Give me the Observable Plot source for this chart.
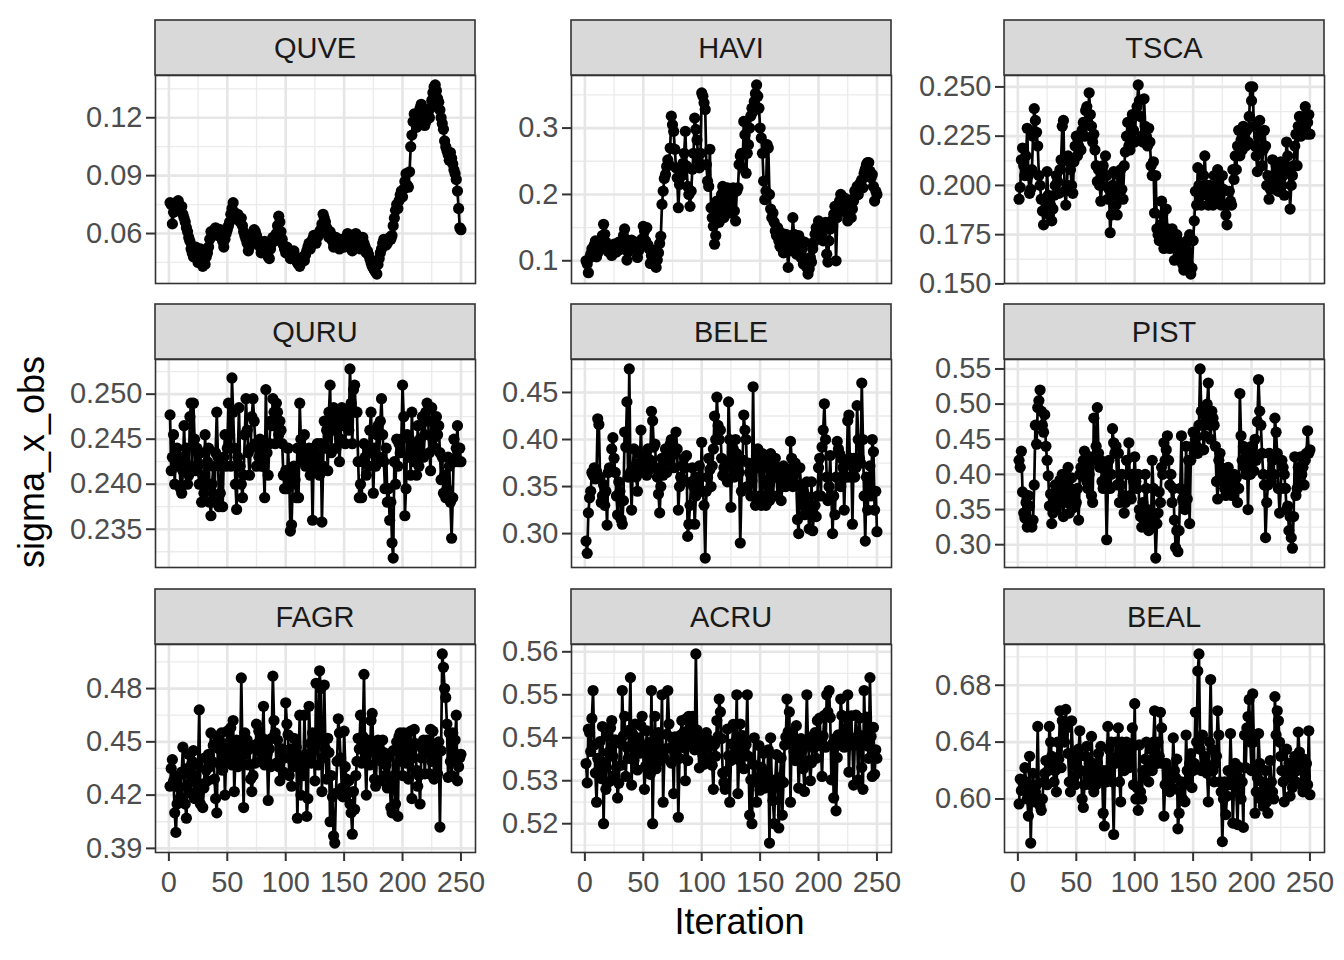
<!DOCTYPE html>
<html><head><meta charset="utf-8">
<script src="https://cdn.jsdelivr.net/npm/d3@7"></script>
<script src="https://cdn.jsdelivr.net/npm/@observablehq/plot@0.6"></script>
<style>
body{margin:0;background:#fff;}
#chart{position:relative;width:1344px;height:960px;font-family:"Liberation Sans",Arial,Helvetica,sans-serif;}
#chart svg{overflow:visible}
</style></head><body><div id="chart"></div>
<script>
const species = ["QUVE","HAVI","TSCA","QURU","BELE","PIST","FAGR","ACRU","BEAL"];

const QUVE = [0.076,0.075,0.065,0.071,0.074,0.076,0.073,0.077,0.075,0.072,
0.074,0.070,0.068,0.066,0.063,0.061,0.058,0.056,0.052,0.050,
0.048,0.051,0.053,0.047,0.045,0.049,0.052,0.046,0.043,0.045,
0.044,0.048,0.050,0.053,0.057,0.061,0.059,0.061,0.062,0.063,
0.061,0.059,0.060,0.062,0.058,0.056,0.053,0.057,0.060,0.062,
0.064,0.066,0.070,0.073,0.076,0.071,0.069,0.068,0.070,0.067,
0.066,0.068,0.064,0.061,0.059,0.057,0.055,0.051,0.053,0.055,
0.058,0.060,0.062,0.061,0.059,0.057,0.055,0.053,0.050,0.052,
0.054,0.056,0.053,0.050,0.048,0.047,0.052,0.055,0.058,0.056,
0.058,0.060,0.064,0.069,0.066,0.061,0.057,0.054,0.052,0.050,
0.053,0.052,0.049,0.047,0.048,0.050,0.051,0.048,0.046,0.045,
0.044,0.043,0.045,0.047,0.048,0.046,0.049,0.051,0.053,0.055,
0.052,0.054,0.057,0.059,0.056,0.055,0.058,0.059,0.061,0.062,
0.065,0.070,0.068,0.066,0.063,0.060,0.058,0.061,0.059,0.056,
0.053,0.055,0.058,0.057,0.054,0.052,0.055,0.057,0.055,0.053,
0.056,0.058,0.060,0.059,0.056,0.053,0.051,0.054,0.057,0.060,
0.059,0.056,0.054,0.052,0.056,0.058,0.055,0.053,0.050,0.051,
0.049,0.047,0.045,0.043,0.042,0.041,0.040,0.039,0.044,0.047,
0.050,0.052,0.055,0.057,0.056,0.054,0.055,0.057,0.058,0.057,
0.059,0.064,0.068,0.072,0.075,0.073,0.077,0.080,0.082,0.079,
0.083,0.087,0.091,0.085,0.084,0.092,0.105,0.111,0.118,0.122,
0.119,0.115,0.118,0.121,0.125,0.127,0.122,0.119,0.116,0.118,
0.121,0.123,0.120,0.125,0.129,0.133,0.136,0.137,0.134,0.130,
0.128,0.124,0.120,0.117,0.114,0.108,0.105,0.103,0.101,0.098,
0.102,0.099,0.096,0.093,0.091,0.088,0.082,0.073,0.063,0.062];

const HAVI = [0.100,0.095,0.082,0.104,0.110,0.118,0.113,0.124,0.130,0.106,
0.112,0.121,0.128,0.124,0.138,0.155,0.140,0.128,0.120,0.114,
0.118,0.112,0.108,0.116,0.125,0.120,0.113,0.122,0.128,0.117,
0.121,0.126,0.138,0.148,0.125,0.101,0.113,0.120,0.126,0.131,
0.124,0.119,0.128,0.122,0.105,0.115,0.128,0.124,0.133,0.152,
0.145,0.130,0.150,0.124,0.118,0.096,0.108,0.116,0.112,0.104,
0.090,0.101,0.112,0.126,0.137,0.185,0.205,0.224,0.230,0.242,
0.252,0.245,0.270,0.318,0.305,0.295,0.268,0.240,0.225,0.180,
0.215,0.232,0.228,0.247,0.262,0.295,0.243,0.212,0.200,0.182,
0.205,0.238,0.262,0.315,0.298,0.282,0.252,0.240,0.262,0.353,
0.348,0.338,0.328,0.245,0.220,0.212,0.268,0.180,0.165,0.152,
0.125,0.138,0.190,0.172,0.158,0.185,0.200,0.212,0.165,0.178,
0.195,0.210,0.205,0.172,0.190,0.200,0.210,0.175,0.160,0.205,
0.210,0.245,0.258,0.262,0.240,0.310,0.290,0.232,0.262,0.275,
0.300,0.318,0.330,0.325,0.340,0.352,0.365,0.348,0.330,0.300,
0.285,0.262,0.220,0.192,0.205,0.275,0.270,0.200,0.178,0.165,
0.172,0.158,0.145,0.138,0.150,0.130,0.122,0.142,0.118,0.112,
0.128,0.140,0.120,0.090,0.115,0.135,0.128,0.165,0.140,0.120,
0.110,0.125,0.138,0.132,0.105,0.118,0.095,0.128,0.100,0.090,
0.080,0.088,0.105,0.098,0.118,0.128,0.140,0.150,0.145,0.160,
0.155,0.150,0.140,0.130,0.148,0.158,0.110,0.098,0.130,0.148,
0.160,0.152,0.170,0.182,0.100,0.165,0.175,0.190,0.200,0.185,
0.178,0.195,0.188,0.172,0.160,0.182,0.192,0.165,0.178,0.190,
0.205,0.198,0.212,0.200,0.215,0.218,0.222,0.210,0.232,0.238,
0.245,0.248,0.248,0.235,0.225,0.230,0.212,0.190,0.205,0.200];

const TSCA = [0.193,0.199,0.213,0.219,0.210,0.205,0.215,0.229,0.205,0.196,
0.198,0.208,0.225,0.239,0.233,0.227,0.220,0.205,0.200,0.193,
0.187,0.180,0.187,0.192,0.207,0.195,0.185,0.190,0.182,0.188,
0.195,0.200,0.205,0.202,0.196,0.208,0.213,0.230,0.233,0.197,
0.190,0.200,0.215,0.212,0.208,0.200,0.196,0.212,0.220,0.225,
0.215,0.220,0.225,0.218,0.228,0.232,0.225,0.238,0.240,0.232,
0.247,0.236,0.230,0.222,0.226,0.218,0.210,0.202,0.208,0.200,
0.192,0.200,0.210,0.205,0.215,0.205,0.193,0.198,0.176,0.185,
0.200,0.207,0.195,0.190,0.185,0.200,0.205,0.208,0.198,0.193,
0.210,0.217,0.225,0.232,0.220,0.218,0.222,0.236,0.228,0.222,
0.236,0.240,0.251,0.243,0.235,0.225,0.222,0.244,0.230,0.225,
0.220,0.229,0.222,0.210,0.205,0.212,0.186,0.205,0.178,0.175,
0.172,0.180,0.192,0.185,0.168,0.175,0.188,0.178,0.170,0.168,
0.175,0.178,0.170,0.162,0.168,0.175,0.172,0.165,0.170,0.163,
0.160,0.157,0.165,0.168,0.172,0.160,0.175,0.155,0.158,0.172,
0.182,0.197,0.190,0.209,0.200,0.195,0.190,0.197,0.205,0.215,
0.200,0.195,0.190,0.200,0.193,0.198,0.190,0.205,0.197,0.192,
0.208,0.200,0.195,0.190,0.205,0.198,0.190,0.185,0.180,0.190,
0.197,0.192,0.190,0.208,0.203,0.215,0.208,0.220,0.228,0.215,
0.223,0.218,0.230,0.225,0.220,0.228,0.222,0.235,0.250,0.243,
0.250,0.230,0.220,0.215,0.207,0.225,0.233,0.226,0.210,0.218,
0.228,0.220,0.200,0.205,0.193,0.198,0.200,0.213,0.205,0.198,
0.210,0.200,0.197,0.205,0.212,0.200,0.205,0.195,0.210,0.222,
0.215,0.208,0.188,0.200,0.205,0.210,0.220,0.226,0.210,0.230,
0.235,0.225,0.230,0.228,0.235,0.240,0.226,0.232,0.236,0.226];

const QURU = [0.2477,0.2415,0.2430,0.2455,0.2400,0.2435,0.2440,0.2420,0.2430,0.2395,
0.2390,0.2415,0.2465,0.2425,0.2440,0.2400,0.2410,0.2475,0.2490,0.2420,
0.2490,0.2450,0.2415,0.2440,0.2420,0.2400,0.2435,0.2380,0.2410,0.2390,
0.2455,0.2400,0.2425,0.2440,0.2380,0.2365,0.2400,0.2420,0.2380,0.2435,
0.2480,0.2430,0.2375,0.2390,0.2420,0.2375,0.2430,0.2455,0.2420,0.2440,
0.2490,0.2455,0.2420,0.2518,0.2480,0.2440,0.2400,0.2372,0.2430,0.2485,
0.2420,0.2400,0.2385,0.2410,0.2455,0.2495,0.2460,0.2435,0.2410,0.2440,
0.2475,0.2495,0.2470,0.2445,0.2420,0.2445,0.2430,0.2450,0.2420,0.2440,
0.2420,0.2385,0.2505,0.2435,0.2410,0.2445,0.2470,0.2465,0.2495,0.2480,
0.2445,0.2490,0.2480,0.2455,0.2470,0.2460,0.2445,0.2410,0.2395,0.2415,
0.2395,0.2440,0.2410,0.2348,0.2355,0.2400,0.2420,0.2405,0.2385,0.2440,
0.2385,0.2490,0.2450,0.2425,0.2440,0.2455,0.2420,0.2430,0.2425,0.2440,
0.2410,0.2430,0.2360,0.2440,0.2420,0.2415,0.2445,0.2430,0.2410,0.2445,
0.2358,0.2420,0.2470,0.2440,0.2460,0.2415,0.2480,0.2510,0.2435,0.2475,
0.2485,0.2460,0.2440,0.2480,0.2470,0.2425,0.2450,0.2485,0.2470,0.2465,
0.2445,0.2480,0.2470,0.2460,0.2528,0.2490,0.2445,0.2505,0.2510,0.2480,
0.2480,0.2425,0.2385,0.2400,0.2385,0.2425,0.2445,0.2430,0.2410,0.2440,
0.2420,0.2460,0.2480,0.2435,0.2390,0.2440,0.2420,0.2455,0.2465,0.2430,
0.2470,0.2495,0.2455,0.2425,0.2395,0.2440,0.2380,0.2395,0.2360,0.2380,
0.2335,0.2318,0.2425,0.2400,0.2450,0.2420,0.2445,0.2435,0.2450,0.2510,
0.2475,0.2365,0.2395,0.2455,0.2430,0.2450,0.2410,0.2480,0.2440,0.2425,
0.2445,0.2410,0.2465,0.2420,0.2450,0.2435,0.2475,0.2430,0.2455,0.2480,
0.2490,0.2470,0.2435,0.2415,0.2485,0.2450,0.2470,0.2440,0.2475,0.2455,
0.2465,0.2435,0.2405,0.2430,0.2390,0.2410,0.2385,0.2395,0.2430,0.2420,
0.2380,0.2340,0.2385,0.2450,0.2425,0.2440,0.2465,0.2425,0.2440,0.2425];

const BELE = [0.292,0.279,0.322,0.338,0.345,0.365,0.362,0.370,0.358,0.366,
0.422,0.416,0.360,0.333,0.340,0.352,0.330,0.345,0.309,0.365,
0.370,0.368,0.390,0.402,0.380,0.365,0.340,0.320,0.355,0.345,
0.315,0.310,0.335,0.408,0.392,0.440,0.360,0.475,0.365,0.325,
0.370,0.390,0.372,0.360,0.345,0.385,0.375,0.410,0.370,0.365,
0.372,0.380,0.362,0.390,0.368,0.378,0.430,0.420,0.392,0.395,
0.370,0.360,0.342,0.322,0.350,0.380,0.362,0.375,0.390,0.365,
0.378,0.385,0.395,0.400,0.390,0.370,0.385,0.408,0.390,0.325,
0.350,0.360,0.372,0.355,0.380,0.370,0.383,0.297,0.310,0.330,
0.355,0.370,0.350,0.310,0.340,0.360,0.352,0.372,0.345,0.397,
0.345,0.330,0.274,0.345,0.360,0.380,0.368,0.350,0.372,0.390,
0.425,0.400,0.445,0.415,0.400,0.410,0.380,0.362,0.370,0.360,
0.375,0.355,0.440,0.400,0.328,0.380,0.390,0.360,0.400,0.385,
0.372,0.365,0.290,0.345,0.378,0.426,0.410,0.400,0.350,0.375,
0.365,0.340,0.356,0.456,0.340,0.330,0.370,0.390,0.380,0.340,
0.330,0.385,0.370,0.340,0.330,0.380,0.350,0.335,0.385,0.372,
0.340,0.360,0.380,0.360,0.340,0.370,0.360,0.335,0.350,0.372,
0.362,0.350,0.368,0.360,0.355,0.398,0.380,0.350,0.362,0.375,
0.352,0.315,0.300,0.370,0.350,0.330,0.345,0.320,0.340,0.355,
0.330,0.305,0.320,0.355,0.303,0.320,0.330,0.318,0.340,0.370,
0.380,0.340,0.392,0.410,0.438,0.400,0.360,0.335,0.350,0.383,
0.340,0.300,0.340,0.320,0.360,0.398,0.390,0.385,0.350,0.380,
0.370,0.325,0.372,0.360,0.420,0.426,0.360,0.380,0.310,0.380,
0.360,0.370,0.436,0.400,0.380,0.375,0.460,0.400,0.340,0.292,
0.360,0.325,0.350,0.372,0.340,0.400,0.387,0.325,0.345,0.302];

const PIST = [0.420,0.410,0.433,0.375,0.345,0.338,0.360,0.325,0.370,0.355,
0.330,0.325,0.335,0.385,0.470,0.443,0.495,0.505,0.520,0.490,
0.470,0.460,0.485,0.440,0.420,0.398,0.355,0.372,0.330,0.345,
0.360,0.385,0.350,0.372,0.380,0.392,0.360,0.400,0.340,0.378,
0.400,0.360,0.410,0.345,0.380,0.395,0.352,0.375,0.355,0.360,
0.380,0.335,0.400,0.410,0.398,0.420,0.433,0.412,0.390,0.380,
0.400,0.425,0.370,0.360,0.480,0.420,0.440,0.495,0.430,0.410,
0.420,0.390,0.380,0.410,0.395,0.307,0.380,0.420,0.380,0.400,
0.465,0.445,0.430,0.440,0.385,0.430,0.360,0.385,0.400,0.370,
0.345,0.360,0.420,0.400,0.445,0.370,0.365,0.400,0.390,0.425,
0.390,0.380,0.400,0.350,0.340,0.325,0.360,0.335,0.400,0.380,
0.350,0.320,0.340,0.330,0.420,0.380,0.340,0.281,0.330,0.345,
0.375,0.360,0.410,0.400,0.445,0.420,0.435,0.455,0.420,0.385,
0.400,0.360,0.380,0.335,0.296,0.320,0.290,0.320,0.380,0.455,
0.365,0.360,0.350,0.440,0.365,0.420,0.330,0.420,0.440,0.460,
0.430,0.450,0.440,0.430,0.470,0.550,0.490,0.470,0.435,0.455,
0.480,0.500,0.530,0.470,0.450,0.490,0.480,0.470,0.440,0.390,
0.365,0.420,0.430,0.410,0.390,0.400,0.380,0.370,0.395,0.410,
0.380,0.400,0.370,0.390,0.400,0.380,0.395,0.360,0.380,0.515,
0.455,0.420,0.440,0.410,0.400,0.430,0.350,0.430,0.400,0.440,
0.420,0.405,0.450,0.420,0.475,0.535,0.490,0.470,0.430,0.400,
0.385,0.310,0.360,0.385,0.430,0.400,0.390,0.420,0.400,0.480,
0.460,0.430,0.380,0.345,0.380,0.420,0.410,0.400,0.380,0.350,
0.355,0.320,0.340,0.310,0.295,0.340,0.425,0.370,0.380,0.410,
0.385,0.425,0.400,0.410,0.385,0.420,0.430,0.462,0.430,0.435];

const FAGR = [0.425,0.435,0.440,0.428,0.410,0.399,0.415,0.431,0.424,0.419,
0.433,0.447,0.432,0.415,0.407,0.426,0.443,0.436,0.421,0.439,
0.445,0.418,0.431,0.422,0.437,0.468,0.415,0.426,0.413,0.424,
0.441,0.434,0.428,0.443,0.436,0.455,0.439,0.448,0.429,0.418,
0.410,0.452,0.446,0.437,0.455,0.434,0.449,0.420,0.441,0.456,
0.449,0.444,0.458,0.437,0.462,0.422,0.441,0.451,0.436,0.446,
0.439,0.486,0.442,0.413,0.455,0.444,0.451,0.437,0.446,0.429,
0.422,0.431,0.448,0.438,0.460,0.449,0.456,0.439,0.444,0.452,
0.470,0.437,0.451,0.443,0.417,0.446,0.436,0.452,0.487,0.462,
0.455,0.438,0.451,0.436,0.428,0.441,0.446,0.433,0.441,0.472,
0.460,0.454,0.431,0.446,0.425,0.439,0.452,0.436,0.447,0.407,
0.441,0.465,0.420,0.438,0.431,0.465,0.443,0.408,0.418,0.470,
0.449,0.438,0.455,0.446,0.428,0.483,0.451,0.437,0.490,0.480,
0.422,0.441,0.482,0.446,0.429,0.452,0.444,0.405,0.431,0.419,
0.397,0.393,0.421,0.439,0.463,0.455,0.441,0.424,0.419,0.456,
0.436,0.429,0.421,0.428,0.415,0.410,0.398,0.422,0.412,0.431,
0.439,0.452,0.446,0.465,0.438,0.453,0.488,0.441,0.420,0.451,
0.444,0.437,0.462,0.466,0.446,0.429,0.425,0.441,0.451,0.446,
0.428,0.439,0.451,0.444,0.431,0.437,0.424,0.441,0.429,0.413,
0.410,0.445,0.431,0.415,0.450,0.408,0.453,0.455,0.439,0.431,
0.455,0.448,0.438,0.451,0.429,0.446,0.456,0.418,0.441,0.457,
0.449,0.434,0.425,0.431,0.415,0.441,0.446,0.451,0.432,0.444,
0.451,0.444,0.432,0.457,0.439,0.456,0.429,0.446,0.441,0.432,
0.450,0.402,0.445,0.4995,0.492,0.480,0.475,0.460,0.430,0.455,
0.439,0.431,0.455,0.444,0.451,0.465,0.428,0.436,0.441,0.443];

const ACRU = [0.534,0.5295,0.542,0.5412,0.5368,0.5445,0.551,0.5383,0.5318,0.525,
0.5352,0.5327,0.5391,0.5305,0.5426,0.520,0.5342,0.528,0.5404,0.5366,
0.5298,0.5423,0.544,0.5357,0.5312,0.5395,0.5331,0.526,0.5294,0.5387,
0.5336,0.551,0.5405,0.545,0.531,0.5378,0.5352,0.5418,0.554,0.529,
0.5408,0.5347,0.5432,0.5371,0.5325,0.5399,0.5364,0.5428,0.545,0.5377,
0.528,0.5334,0.5416,0.5348,0.5389,0.5315,0.551,0.520,0.5362,0.545,
0.5328,0.5385,0.5412,0.5346,0.5361,0.550,0.525,0.5353,0.5374,0.5408,
0.551,0.5432,0.5376,0.5341,0.5398,0.527,0.5402,0.5358,0.5384,0.5215,
0.5352,0.5406,0.544,0.5377,0.5414,0.530,0.5445,0.5347,0.545,0.5381,
0.5423,0.545,0.5397,0.5372,0.5595,0.5418,0.5386,0.533,0.5379,0.5404,
0.5361,0.5338,0.5385,0.5412,0.5376,0.5395,0.535,0.5382,0.5336,0.528,
0.5384,0.5357,0.544,0.5403,0.549,0.546,0.5398,0.5318,0.5296,0.528,
0.5322,0.542,0.5358,0.525,0.5347,0.5386,0.5431,0.5352,0.5368,0.550,
0.527,0.5348,0.5432,0.5379,0.5405,0.5328,0.5361,0.5384,0.550,0.5357,
0.522,0.5302,0.520,0.5338,0.540,0.5297,0.525,0.5306,0.5382,0.5278,
0.5331,0.5296,0.5364,0.5283,0.5322,0.5305,0.5372,0.5155,0.540,0.5298,
0.5254,0.520,0.5302,0.5361,0.5285,0.519,0.5307,0.5353,0.522,0.5296,
0.5383,0.5402,0.549,0.5414,0.546,0.525,0.5408,0.5395,0.5368,0.5347,
0.5428,0.5382,0.5283,0.5351,0.5398,0.5372,0.5328,0.5275,0.5381,0.550,
0.5384,0.5347,0.530,0.5342,0.5403,0.5376,0.5412,0.5352,0.544,0.5396,
0.5446,0.5381,0.531,0.5404,0.5452,0.5378,0.550,0.546,0.551,0.5447,
0.5302,0.5386,0.526,0.5398,0.523,0.5354,0.5407,0.5383,0.549,0.5452,
0.5403,0.5378,0.5448,0.5396,0.550,0.532,0.5402,0.5451,0.5383,0.529,
0.5384,0.5453,0.5398,0.5302,0.5446,0.5405,0.5331,0.528,0.551,0.5402,
0.5448,0.5381,0.5352,0.554,0.5403,0.531,0.5424,0.5315,0.5372,0.5352];

const BEAL = [0.5965,0.614,0.606,0.612,0.608,0.622,0.612,0.600,0.588,0.630,
0.569,0.605,0.618,0.598,0.605,0.610,0.651,0.600,0.595,0.592,
0.600,0.612,0.618,0.627,0.610,0.620,0.651,0.640,0.630,0.625,
0.612,0.620,0.605,0.640,0.628,0.662,0.622,0.655,0.645,0.640,
0.663,0.650,0.632,0.612,0.605,0.655,0.630,0.615,0.610,0.625,
0.618,0.635,0.648,0.620,0.600,0.594,0.610,0.630,0.637,0.615,
0.625,0.610,0.644,0.625,0.605,0.620,0.610,0.625,0.632,0.615,
0.637,0.620,0.590,0.581,0.620,0.612,0.651,0.635,0.615,0.640,
0.612,0.575,0.625,0.640,0.630,0.650,0.612,0.598,0.640,0.635,
0.620,0.628,0.640,0.632,0.622,0.625,0.635,0.650,0.610,0.667,
0.600,0.608,0.592,0.638,0.605,0.600,0.620,0.615,0.628,0.640,
0.620,0.612,0.625,0.635,0.620,0.640,0.662,0.630,0.625,0.640,
0.630,0.661,0.650,0.625,0.588,0.610,0.625,0.620,0.612,0.605,
0.618,0.608,0.643,0.620,0.615,0.628,0.579,0.590,0.605,0.612,
0.600,0.610,0.598,0.645,0.620,0.612,0.625,0.632,0.608,0.620,
0.625,0.661,0.640,0.690,0.702,0.635,0.620,0.645,0.623,0.630,
0.625,0.618,0.598,0.640,0.684,0.635,0.620,0.612,0.625,0.630,
0.662,0.645,0.612,0.605,0.570,0.600,0.612,0.589,0.602,0.620,
0.610,0.646,0.618,0.583,0.610,0.625,0.605,0.582,0.615,0.622,
0.600,0.612,0.580,0.645,0.622,0.650,0.658,0.670,0.640,0.620,
0.674,0.640,0.590,0.605,0.615,0.646,0.625,0.600,0.612,0.595,
0.605,0.620,0.598,0.590,0.610,0.627,0.612,0.605,0.600,0.672,
0.645,0.662,0.655,0.640,0.630,0.620,0.612,0.598,0.620,0.635,
0.615,0.625,0.602,0.615,0.608,0.622,0.630,0.612,0.620,0.647,
0.633,0.625,0.610,0.605,0.628,0.615,0.625,0.610,0.648,0.603];

const series = [QUVE, HAVI, TSCA, QURU, BELE, PIST, FAGR, ACRU, BEAL];

const ticksQUVE = ["0.06","0.09","0.12"];
const ticksHAVI = ["0.1","0.2","0.3"];
const ticksTSCA = ["0.150","0.175","0.200","0.225","0.250"];
const ticksQURU = ["0.235","0.240","0.245","0.250"];
const ticksBELE = ["0.30","0.35","0.40","0.45"];
const ticksPIST = ["0.30","0.35","0.40","0.45","0.50","0.55"];
const ticksFAGR = ["0.39","0.42","0.45","0.48"];
const ticksACRU = ["0.52","0.53","0.54","0.55","0.56"];
const ticksBEAL = ["0.60","0.64","0.68"];
const yTickLabels = [ticksQUVE, ticksHAVI, ticksTSCA, ticksQURU, ticksBELE, ticksPIST, ticksFAGR, ticksACRU, ticksBEAL];

const xTicks = [0, 50, 100, 150, 200, 250];
const xTitle = "Iteration";
const yTitle = "sigma_x_obs";

// ---- layout ----
const FONT = '"Liberation Sans", Arial, Helvetica, sans-serif';
const colLeft = [155, 571, 1004];
const stripTop = [20, 304, 589];
const PW = 320, PH = 208, SH = 55;
const chart = document.getElementById("chart");

function expand(ext) { const p = (ext[1] - ext[0]) * 0.05; return [ext[0] - p, ext[1] + p]; }

species.forEach((name, k) => {
  const row = Math.floor(k / 3), col = k % 3;
  const values = series[k];
  const data = values.map((v, i) => ({iter: i + 1, v}));
  const labels = yTickLabels[k];
  const tv = labels.map(Number);
  const labelOf = new Map(tv.map((t, i) => [t, labels[i]]));
  const yDom = expand(d3.extent(values));
  const xDom = expand([1, values.length]);
  const step = tv[1] - tv[0];
  const yMinor = [tv[0] - step / 2, ...tv.map(t => t + step / 2)].filter(t => t > yDom[0] && t < yDom[1]);
  const xMinor = xTicks.slice(1).map(t => t - 25);
  const bottom = row === 2;
  const mL = 100, mR = 6, mT = 6, mB = bottom ? 60 : 6;
  const marks = [
    Plot.gridX(xMinor, {stroke: "#EBEBEB", strokeOpacity: 1, strokeWidth: 1.3}),
    Plot.gridY(yMinor, {stroke: "#EBEBEB", strokeOpacity: 1, strokeWidth: 1.3}),
    Plot.gridX(xTicks, {stroke: "#E6E6E6", strokeOpacity: 1, strokeWidth: 2.6}),
    Plot.gridY(tv, {stroke: "#E6E6E6", strokeOpacity: 1, strokeWidth: 2.6}),
    Plot.line(data, {x: "iter", y: "v", stroke: "black", strokeWidth: 2.7}),
    Plot.dot(data, {x: "iter", y: "v", r: 5.6, fill: "black", stroke: "none"}),
    Plot.frame({stroke: "#333333", strokeWidth: 1.6}),
    Plot.axisY(tv, {tickSize: 9, tickPadding: 4, tickFormat: d => labelOf.get(d), stroke: "#333333",
      strokeWidth: 2, fill: "#4D4D4D", fontSize: 29, label: null})
  ];
  if (bottom) marks.push(Plot.axisX(xTicks, {tickSize: 9, tickPadding: 10, stroke: "#333333",
    strokeWidth: 2, fill: "#4D4D4D", fontSize: 29, label: null, tickFormat: d => String(d)}));
  const p = Plot.plot({
    width: mL + PW + mR, height: mT + PH + mB,
    marginLeft: mL, marginRight: mR, marginTop: mT, marginBottom: mB,
    style: {fontFamily: FONT, fontSize: "29px", background: "none", overflow: "visible"},
    x: bottom ? {domain: xDom, label: null} : {domain: xDom, axis: null, label: null},
    y: {domain: yDom, label: null},
    marks
  });
  const wrap = document.createElement("div");
  wrap.style.position = "absolute";
  wrap.style.left = (colLeft[col] - mL) + "px";
  wrap.style.top = (stripTop[row] + SH - mT) + "px";
  wrap.appendChild(p);
  chart.appendChild(wrap);
});

// overlay: strips and axis titles
const svg = d3.select(chart).append("svg")
  .attr("width", 1344).attr("height", 960)
  .style("position", "absolute").style("left", "0px").style("top", "0px")
  .style("pointer-events", "none").style("font-family", FONT);

species.forEach((name, k) => {
  const row = Math.floor(k / 3), col = k % 3;
  svg.append("rect").attr("x", colLeft[col]).attr("y", stripTop[row])
    .attr("width", PW).attr("height", SH)
    .attr("fill", "#D9D9D9").attr("stroke", "#333333").attr("stroke-width", 1.6);
  svg.append("text").attr("x", colLeft[col] + PW / 2).attr("y", stripTop[row] + SH / 2 + 10.4)
    .attr("text-anchor", "middle").attr("font-size", 29).attr("fill", "#1A1A1A").text(name);
});

svg.append("text").attr("x", (colLeft[0] + colLeft[2] + PW) / 2).attr("y", 934)
  .attr("text-anchor", "middle").attr("font-size", 36).attr("fill", "black").text(xTitle);
svg.append("text").attr("transform", "translate(44,462) rotate(-90)")
  .attr("text-anchor", "middle").attr("font-size", 36).attr("fill", "black").text(yTitle);
</script></body></html>
